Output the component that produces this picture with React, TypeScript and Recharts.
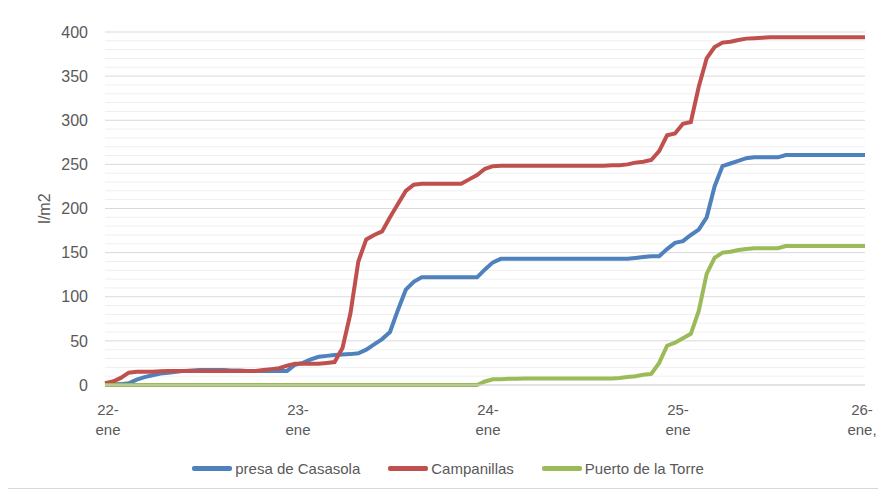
import {
  CartesianGrid,
  Legend,
  Line,
  LineChart,
  ReferenceLine,
  XAxis,
  YAxis,
} from "recharts"

// hourly accumulated rainfall (l/m2), 22-ene 00h .. 26-ene 00h
const casasola = [
  0, 0.5, 1, 2, 6, 9, 11, 13, 14, 15, 16, 16.5,
  17, 17, 17, 17, 16.5, 16.5, 16, 16, 16, 16, 16, 16,
  23, 25, 29, 32, 33, 34, 34.5, 35, 36, 40, 46, 52,
  60, 85, 108, 117, 122, 122, 122, 122, 122, 122, 122, 122,
  131, 139, 143, 143, 143, 143, 143, 143, 143, 143, 143, 143,
  143, 143, 143, 143, 143, 143, 143, 144, 145, 146, 146, 154,
  161, 163, 170, 176, 190, 225, 248, 251, 254, 257, 258, 258,
  258, 258, 260.5, 260.5, 260.5, 260.5, 260.5, 260.5, 260.5, 260.5, 260.5, 260.5,
  260.5,
]

const campanillas = [
  2, 4, 8, 14, 15, 15, 15, 15.5, 16, 16, 16, 16,
  16, 16, 16, 16, 16, 16, 16, 16, 17, 18, 19, 22,
  24, 24, 24, 24, 25, 26, 42, 81, 140, 165, 170, 174,
  190, 205, 220, 227, 228, 228, 228, 228, 228, 228, 233, 238,
  245, 248, 248.5, 248.5, 248.5, 248.5, 248.5, 248.5, 248.5, 248.5, 248.5, 248.5,
  248.5, 248.5, 248.5, 248.5, 249, 249, 250, 252, 253, 255, 265, 283,
  285, 296, 298, 338, 370, 383, 388, 389, 391, 392.5, 393, 393.5,
  394, 394, 394, 394, 394, 394, 394, 394, 394, 394, 394, 394,
  394,
]

const puertoTorre = [
  0, 0, 0, 0, 0, 0, 0, 0, 0, 0, 0, 0,
  0, 0, 0, 0, 0, 0, 0, 0, 0, 0, 0, 0,
  0, 0, 0, 0, 0, 0, 0, 0, 0, 0, 0, 0,
  0, 0, 0, 0, 0, 0, 0, 0, 0, 0, 0, 0,
  4, 6.5, 6.5, 7, 7, 7.5, 7.5, 7.5, 7.5, 7.5, 7.5, 7.5,
  7.5, 7.5, 7.5, 7.5, 7.5, 8, 9, 10, 11.5, 12.5, 25, 44.5,
  48, 53, 58, 84, 126, 144, 150, 151, 153, 154, 155, 155,
  155, 155, 157.5, 157.5, 157.5, 157.5, 157.5, 157.5, 157.5, 157.5, 157.5, 157.5,
  157.5,
]

const dayTicks = [0, 24, 48, 72, 96]
const dayLabels = ["22-", "23-", "24-", "25-", "26-"]
const monthLabels = ["ene", "ene", "ene", "ene", "ene,"]
const yTicks = [0, 50, 100, 150, 200, 250, 300, 350, 400]
const minorTicks = [
  10, 20, 30, 40, 60, 70, 80, 90, 110, 120, 130, 140, 160, 170, 180, 190,
  210, 220, 230, 240, 260, 270, 280, 290, 310, 320, 330, 340, 360, 370, 380, 390,
]

const series = [
  { key: "casasola", name: "presa de Casasola", color: "#4F81BD" },
  { key: "campanillas", name: "Campanillas", color: "#C0504D" },
  { key: "puertoTorre", name: "Puerto de la Torre", color: "#9BBB59" },
]

const data = casasola.map((v, i) => ({
  h: i,
  casasola: v,
  campanillas: campanillas[i],
  puertoTorre: puertoTorre[i],
}))

const FONT = "'Liberation Sans', Arial, sans-serif"
const TEXT = "#595959"

function DayTick(props: any) {
  const { x, y, index } = props
  // last label sits against the right edge, so pull it in a little
  const tx = index === dayLabels.length - 1 ? x - 3 : x + 3
  return (
    <text x={tx} y={y} textAnchor="middle" fill={TEXT} fontSize={15} fontFamily={FONT}>
      <tspan x={tx} y={y + 22}>{dayLabels[index]}</tspan>
      <tspan x={tx} y={y + 42}>{monthLabels[index]}</tspan>
    </text>
  )
}

function LegendContent() {
  return (
    <div
      style={{
        display: "flex",
        justifyContent: "center",
        paddingLeft: 9,
        fontFamily: FONT,
        fontSize: 15,
        color: TEXT,
      }}
    >
      {series.map((s) => (
        <div key={s.key} style={{ display: "flex", alignItems: "center", margin: "0 14px" }}>
          <span
            style={{
              display: "inline-block",
              width: 40,
              height: 5,
              borderRadius: 2,
              background: s.color,
              marginRight: 3,
            }}
          />
          <span>{s.name}</span>
        </div>
      ))}
    </div>
  )
}

export default function App() {
  return (
    <div
      style={{
        marginLeft: -1,
        marginTop: -1,
        width: 873,
        height: 482,
        border: "1px solid #d9d9d9",
        boxSizing: "border-box",
        background: "#fff",
      }}
    >
      <LineChart
        width={871}
        height={480}
        data={data}
        margin={{ top: 24, right: 14, left: 0, bottom: 0 }}
      >
        <CartesianGrid vertical={false} stroke="#d9d9d9" />
        {minorTicks.map((t) => (
          <ReferenceLine key={t} y={t} stroke="#efefef" strokeWidth={1} />
        ))}
        <XAxis
          dataKey="h"
          type="number"
          domain={[0, 96]}
          ticks={dayTicks}
          interval={0}
          height={103}
          tickLine={false}
          axisLine={{ stroke: "#d9d9d9" }}
          tick={<DayTick />}
        />
        <YAxis
          width={97}
          domain={[0, 400]}
          ticks={yTicks}
          interval={0}
          tickLine={false}
          axisLine={false}
          tickMargin={11}
          tick={{ fill: TEXT, fontSize: 16, fontFamily: FONT }}
          label={{
            value: "l/m2",
            angle: -90,
            position: "center",
            dx: -12,
            fill: TEXT,
            fontSize: 16,
            fontFamily: FONT,
          }}
        />
        <Legend
          verticalAlign="middle"
          align="center"
          layout="horizontal"
          wrapperStyle={{ top: 452, left: 0, width: 871 }}
          content={<LegendContent />}
        />
        {series.map((s) => (
          <Line
            key={s.key}
            type="linear"
            dataKey={s.key}
            name={s.name}
            stroke={s.color}
            strokeWidth={4}
            dot={false}
            activeDot={false}
            isAnimationActive={false}
          />
        ))}
      </LineChart>
    </div>
  )
}
